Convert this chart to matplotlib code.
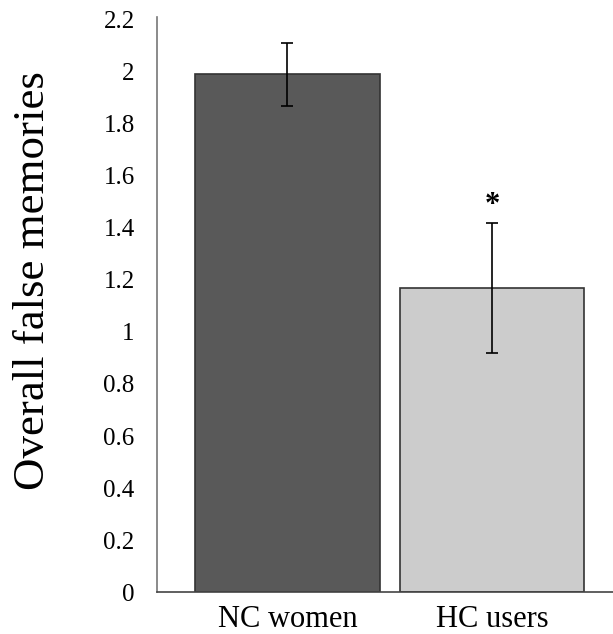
import matplotlib
matplotlib.use("Agg")
import matplotlib.pyplot as plt

groups = ["NC women", "HC users"]
means = [1.99, 1.17]
errors = [0.12, 0.25]
bar_colors = ["#595959", "#cccccc"]

plt.rcParams['font.family'] = ['Liberation Serif', 'DejaVu Serif']

fig = plt.figure(figsize=(6.13, 6.34), dpi=100)
ax = fig.add_axes([0.256, 0.066, 0.744, 0.907])

x = range(len(groups))
ax.bar(x, means, width=0.9, color=bar_colors, edgecolor="#333333", linewidth=1.2,
       yerr=errors, error_kw=dict(ecolor="black", elinewidth=1.2, capsize=4, capthick=1.2))

# significance marker above HC users
ax.text(1, means[1] + errors[1] + 0.065, "*", ha="center", va="center",
        fontsize=22, fontweight="bold")

ax.set_xlim(-0.637, 1.59)
ax.set_ylim(0, 2.21)
ax.set_yticks([i / 10 for i in range(0, 23, 2)])
ax.set_yticklabels(["0", "0.2", "0.4", "0.6", "0.8", "1", "1.2", "1.4", "1.6", "1.8", "2", "2.2"])
ax.set_xticks(list(x))
ax.set_xticklabels(groups)
ax.tick_params(axis="y", length=0, pad=16, labelsize=18)
ax.tick_params(axis="x", length=0, pad=9, labelsize=22)
ax.set_ylabel("Overall false memories", fontsize=32.3)
ax.yaxis.set_label_coords(-0.227, 0.541)

ax.spines["top"].set_visible(False)
ax.spines["right"].set_visible(False)
ax.spines["left"].set_color("#777777")
ax.spines["bottom"].set_color("#444444")
ax.spines["left"].set_linewidth(1.2)
ax.spines["bottom"].set_linewidth(1.2)

fig.savefig("out.png", dpi=100)
